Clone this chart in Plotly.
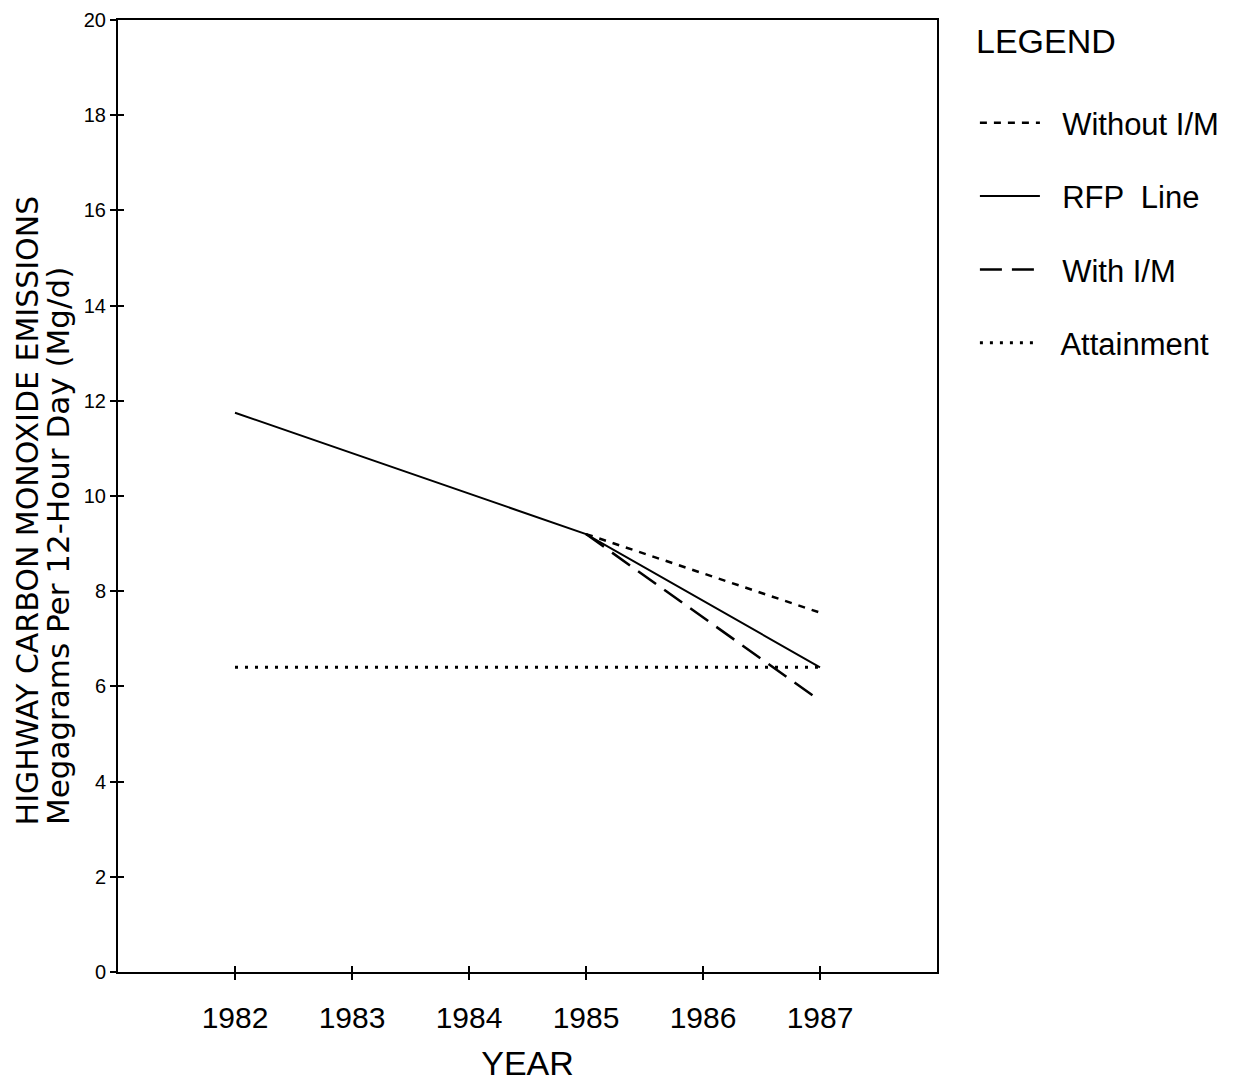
import plotly.graph_objects as go

years_rfp = [1982, 1985, 1987]
rfp = [11.75, 9.2, 6.4]
years_branch = [1985, 1987]
without_im = [9.2, 7.55]
with_im = [9.2, 5.7]
years_att = [1982, 1987]
attainment = [6.4, 6.4]

x_ticks = [1982, 1983, 1984, 1985, 1986, 1987]
y_ticks = list(range(0, 21, 2))

FONT = "Liberation Sans, Arial, sans-serif"
WIDE = "DejaVu Sans, sans-serif"

fig = go.Figure()
fig.add_trace(go.Scatter(x=years_branch, y=without_im, mode="lines", name="  Without I/M",
                         legendgroup="a", line=dict(color="black", width=2.5, dash="7px,7px")))
fig.add_trace(go.Scatter(x=years_rfp, y=rfp, mode="lines", name="  RFP  Line",
                         legendgroup="b", line=dict(color="black", width=2)))
fig.add_trace(go.Scatter(x=years_branch, y=with_im, mode="lines", name="  With I/M",
                         legendgroup="c", line=dict(color="black", width=2.5, dash="22px,10px")))
fig.add_trace(go.Scatter(x=years_att, y=attainment, mode="lines", name="  Attainment",
                         legendgroup="d", line=dict(color="black", width=3, dash="3px,7px")))
# helper trace on the overlay axes so their inward ticks are drawn (crossing ticks)
fig.add_trace(go.Scatter(x=[1981], y=[0], xaxis="x2", yaxis="y2", mode="markers",
                         marker=dict(opacity=0), showlegend=False, hoverinfo="skip"))

axis_common = dict(showgrid=False, zeroline=False, linecolor="black", linewidth=2,
                   ticks="outside", ticklen=6, tickwidth=1.5, tickcolor="black",
                   automargin=False)

fig.update_layout(
    width=1227, height=1074,
    paper_bgcolor="white", plot_bgcolor="white",
    margin=dict(l=110, r=297, t=12, b=110),
    font=dict(family=FONT, color="black"),
    xaxis=dict(range=[1981, 1988], tickvals=x_ticks, mirror=True, showline=True,
               tickfont=dict(size=30), ticklabelstandoff=12,
               title=dict(text="YEAR", font=dict(size=34), standoff=21), **axis_common),
    yaxis=dict(range=[0, 20], tickvals=y_ticks, mirror=True, showline=True,
               tickfont=dict(size=20), **axis_common),
    xaxis2=dict(overlaying="x", anchor="y2", range=[1981, 1988], tickvals=x_ticks,
                showticklabels=False, showline=False, showgrid=False, zeroline=False,
                ticks="inside", ticklen=6, tickwidth=1.5, tickcolor="black", automargin=False),
    yaxis2=dict(overlaying="y", anchor="x2", range=[0, 20], tickvals=y_ticks, side="left",
                showticklabels=False, showline=False, showgrid=False, zeroline=False,
                ticks="inside", ticklen=6, tickwidth=1.5, tickcolor="black", automargin=False),
    showlegend=True,
    legend=dict(x=1.045, xanchor="left", y=0.92, yanchor="top",
                font=dict(size=31), itemwidth=60, tracegroupgap=30,
                bgcolor="rgba(0,0,0,0)"),
)

fig.add_annotation(text="LEGEND", xref="paper", yref="paper", x=1.045, y=1.0,
                   xanchor="left", yanchor="top", showarrow=False,
                   font=dict(size=34, family=FONT))

fig.add_annotation(
    text="HIGHWAY CARBON MONOXIDE EMISSIONS",
    xref="paper", yref="paper", x=-0.111, y=0.152, xanchor="center", yanchor="bottom",
    textangle=-90, showarrow=False, font=dict(size=30, family=WIDE))
fig.add_annotation(
    text="Megagrams Per 12-Hour Day (Mg/d)",
    xref="paper", yref="paper", x=-0.0735, y=0.152, xanchor="center", yanchor="bottom",
    textangle=-90, showarrow=False, font=dict(size=31, family=WIDE))

fig.write_html("out.html")
